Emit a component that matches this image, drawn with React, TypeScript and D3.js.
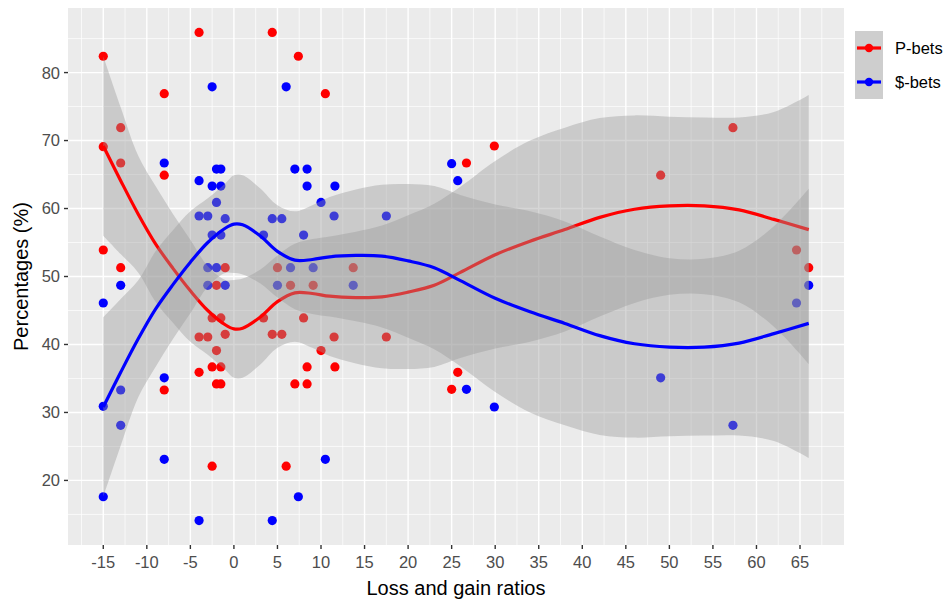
import React from "react";
import * as d3 from "d3";

const width = 949;
const height = 601;
const panel = { left: 68, right: 844, top: 8, bottom: 545 };

// tick labels
const xTicks = [-15, -10, -5, 0, 5, 10, 15, 20, 25, 30, 35, 40, 45, 50, 55, 60, 65];
const xMinor = [-17.5, -12.5, -7.5, -2.5, 2.5, 7.5, 12.5, 17.5, 22.5, 27.5, 32.5, 37.5, 42.5, 47.5, 52.5, 57.5, 62.5, 67.5];
const yTicks = [20, 30, 40, 50, 60, 70, 80];
const yMinor = [15, 25, 35, 45, 55, 65, 75, 85];

// observed points: [ratio, percentage]
const pBets = [
  [-15, 82.4], [-15, 69.1], [-15, 53.9],
  [-13, 71.9], [-13, 66.7], [-13, 51.3],
  [-8, 76.9], [-8, 64.9], [-8, 33.3],
  [-4, 85.9], [-4, 41.1], [-4, 35.9],
  [-3, 41.1],
  [-2.5, 43.9], [-2.5, 36.7], [-2.5, 22.1],
  [-2, 48.7], [-2, 39.1], [-2, 34.2],
  [-1.5, 43.9], [-1.5, 36.7], [-1.5, 34.2],
  [-1, 51.3], [-1, 41.5],
  [3.4, 43.9], [4.4, 85.9], [4.4, 41.5], [5, 51.3], [5.5, 41.5], [6, 22.1],
  [6.5, 48.7], [7, 34.2], [7.4, 82.4], [8, 43.9], [8.4, 36.7], [8.4, 34.2],
  [9.1, 48.7], [10, 39.1], [10.5, 76.9], [11.5, 41.1], [11.6, 36.7], [13.7, 51.3],
  [17.5, 41.1], [25, 33.4], [25.7, 35.9], [26.7, 66.7], [29.9, 69.2],
  [49, 64.9], [57.3, 71.9], [64.6, 53.9], [66, 51.3],
];
const dollarBets = [
  [-15, 17.6], [-15, 30.9], [-15, 46.1],
  [-13, 28.1], [-13, 33.3], [-13, 48.7],
  [-8, 23.1], [-8, 35.1], [-8, 66.7],
  [-4, 14.1], [-4, 58.9], [-4, 64.1],
  [-3, 58.9], [-3, 51.3], [-3, 48.7],
  [-2.5, 56.1], [-2.5, 63.3], [-2.5, 77.9],
  [-2, 51.3], [-2, 60.9], [-2, 65.8],
  [-1.5, 56.1], [-1.5, 63.3], [-1.5, 65.8],
  [-1, 48.7], [-1, 58.5],
  [3.4, 56.1], [4.4, 14.1], [4.4, 58.5], [5, 48.7], [5.5, 58.5], [6, 77.9],
  [6.5, 51.3], [7, 65.8], [7.4, 17.6], [8, 56.1], [8.4, 63.3], [8.4, 65.8],
  [9.1, 51.3], [10, 60.9], [10.5, 23.1], [11.5, 58.9], [11.6, 63.3], [13.7, 48.7],
  [17.5, 58.9], [25, 66.6], [25.7, 64.1], [26.7, 33.4], [29.9, 30.8],
  [49, 35.1], [57.3, 28.1], [64.6, 46.1], [66, 48.7],
];

// smooth fits, with half-width of the grey bands
const smoothX = [-15, -13, -11, -9, -7, -5, -3, -1, 0, 1, 3, 5, 7, 9, 11, 14, 17, 20, 23, 26, 30, 34, 38, 42, 46, 50, 54, 58, 62, 66];
const pFit = [69.2, 64.1, 59.2, 54.8, 51.2, 47.9, 45.0, 42.9, 42.3, 42.4, 44.0, 46.3, 47.6, 47.5, 47.1, 46.9, 47.0, 47.7, 48.7, 50.6, 53.2, 55.2, 56.9, 58.7, 59.9, 60.4, 60.4, 59.8, 58.4, 56.9];
const dollarFit = [30.8, 35.9, 40.8, 45.2, 48.8, 52.1, 55.0, 57.1, 57.7, 57.6, 56.0, 53.7, 52.4, 52.5, 52.9, 53.1, 53.0, 52.3, 51.3, 49.4, 46.8, 44.8, 43.1, 41.3, 40.1, 39.6, 39.6, 40.2, 41.6, 43.1];
const bandHalf = [13.2, 10.8, 8.6, 8.5, 8.0, 7.5, 6.5, 6.6, 7.2, 7.3, 7.0, 6.8, 7.2, 8.0, 8.8, 9.7, 10.5, 11.3, 12.0, 12.6, 13.8, 14.8, 15.0, 14.6, 13.8, 13.1, 13.0, 13.6, 15.8, 19.8];

const series = [
  { name: "P-bets", color: "#FF0000", points: pBets, fit: pFit },
  { name: "$-bets", color: "#0000FF", points: dollarBets, fit: dollarFit },
];

const font = "'Liberation Sans', Arial, Helvetica, sans-serif";

export default function App() {
  const x = d3.scaleLinear().domain([-19.05, 70.05]).range([panel.left, panel.right]);
  const y = d3.scaleLinear().domain([10.5, 89.5]).range([panel.bottom, panel.top]);

  const line = d3
    .line<number>()
    .x((d, i) => x(smoothX[i]))
    .y(d => y(d))
    .curve(d3.curveCatmullRom);

  const band = (fit: number[]) =>
    d3
      .area<number>()
      .x((d, i) => x(smoothX[i]))
      .y0((d, i) => y(d - bandHalf[i]))
      .y1((d, i) => y(d + bandHalf[i]))
      .curve(d3.curveCatmullRom)(fit);

  return (
    <svg width={width} height={height} style={{ position: "absolute", left: 0, top: 0 }}>
      <rect width={width} height={height} fill="#ffffff" />
      {/* panel */}
      <rect
        x={panel.left}
        y={panel.top}
        width={panel.right - panel.left}
        height={panel.bottom - panel.top}
        fill="#EBEBEB"
      />
      <g stroke="#ffffff" fill="none">
        {xMinor.map(t => (
          <line key={"xm" + t} x1={x(t)} x2={x(t)} y1={panel.top} y2={panel.bottom} strokeWidth={0.7} />
        ))}
        {yMinor.map(t => (
          <line key={"ym" + t} x1={panel.left} x2={panel.right} y1={y(t)} y2={y(t)} strokeWidth={0.7} />
        ))}
        {xTicks.map(t => (
          <line key={"x" + t} x1={x(t)} x2={x(t)} y1={panel.top} y2={panel.bottom} strokeWidth={1.4} />
        ))}
        {yTicks.map(t => (
          <line key={"y" + t} x1={panel.left} x2={panel.right} y1={y(t)} y2={y(t)} strokeWidth={1.4} />
        ))}
      </g>

      {/* points */}
      {series.map(s => (
        <g key={"pts" + s.name} fill={s.color}>
          {s.points.map((p, i) => (
            <circle key={i} cx={x(p[0])} cy={y(p[1])} r={4.6} />
          ))}
        </g>
      ))}

      {/* smooths: ribbon then line, per group */}
      {series.map(s => (
        <g key={"sm" + s.name}>
          <path d={band(s.fit) || ""} fill="#999999" fillOpacity={0.4} />
          <path d={line(s.fit) || ""} fill="none" stroke={s.color} strokeWidth={3.2} />
        </g>
      ))}

      {/* axes */}
      <g fontFamily={font} fontSize={16.5} fill="#4D4D4D">
        {yTicks.map(t => (
          <g key={"yt" + t}>
            <line x1={panel.left - 4} x2={panel.left} y1={y(t)} y2={y(t)} stroke="#333333" strokeWidth={1.4} />
            <text x={panel.left - 8} y={y(t)} dy="0.36em" textAnchor="end">
              {t}
            </text>
          </g>
        ))}
        {xTicks.map(t => (
          <g key={"xt" + t}>
            <line x1={x(t)} x2={x(t)} y1={panel.bottom} y2={panel.bottom + 4} stroke="#333333" strokeWidth={1.4} />
            <text x={x(t)} y={panel.bottom + 23} textAnchor="middle">
              {t}
            </text>
          </g>
        ))}
      </g>
      <text
        x={(panel.left + panel.right) / 2}
        y={595}
        textAnchor="middle"
        fontFamily={font}
        fontSize={20}
        fill="#000000"
      >
        Loss and gain ratios
      </text>
      <text
        transform={`translate(28, ${(panel.top + panel.bottom) / 2}) rotate(-90)`}
        textAnchor="middle"
        fontFamily={font}
        fontSize={20}
        fill="#000000"
      >
        Percentages (%)
      </text>

      {/* legend */}
      {series.map((s, i) => (
        <g key={"lg" + s.name} transform={`translate(855, ${31 + i * 34})`}>
          <rect width={28} height={34} fill="#F2F2F2" />
          <rect width={28} height={34} fill="#999999" fillOpacity={0.4} />
          <line x1={2} x2={26} y1={17} y2={17} stroke={s.color} strokeWidth={3.2} />
          <circle cx={14} cy={17} r={4.2} fill={s.color} />
          <text x={40} y={17} dy="0.36em" fontFamily={font} fontSize={16.5} fill="#000000">
            {s.name}
          </text>
        </g>
      ))}
    </svg>
  );
}
